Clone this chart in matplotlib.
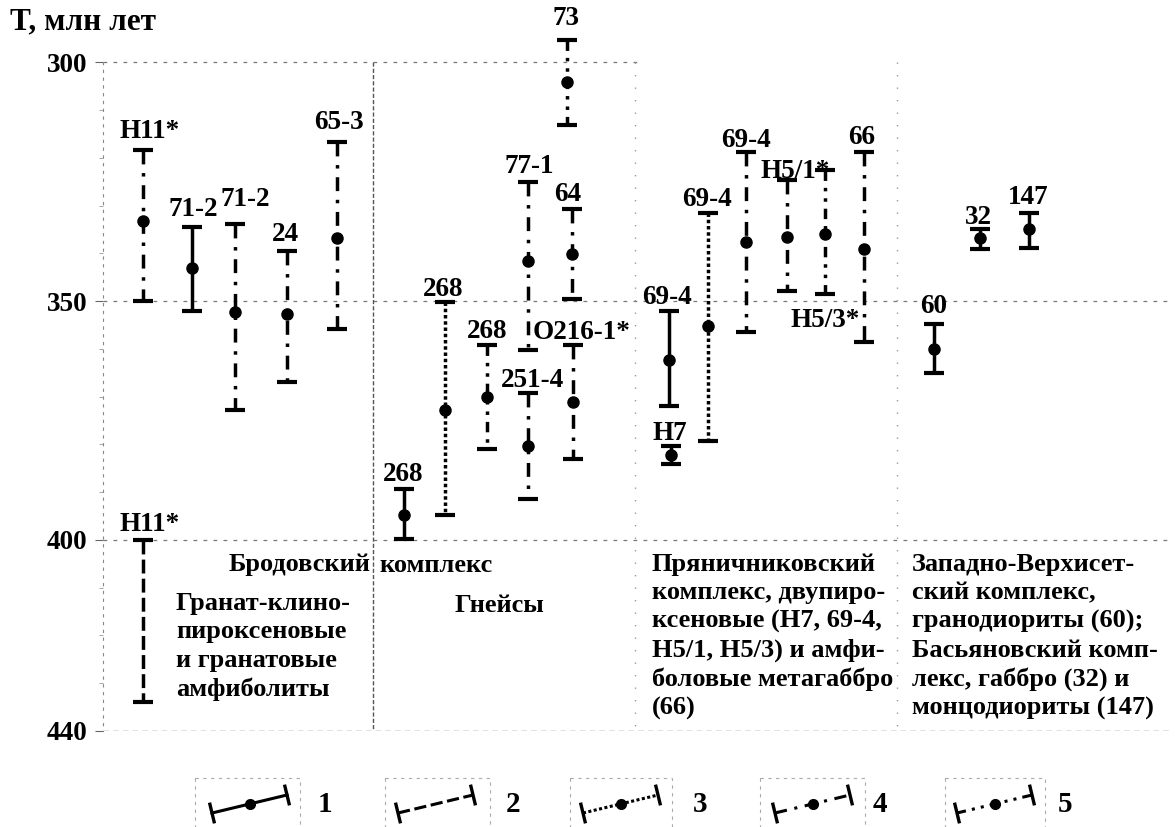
import numpy as np
import matplotlib.pyplot as plt
from matplotlib.patches import Rectangle

plt.rcParams['font.family'] = ['Liberation Serif', 'DejaVu Serif']
plt.rcParams['font.weight'] = 'bold'

# sample labels, age of the point and the two ends of each interval (Ma)
samples = ['H11*', '71-2', '71-2', '24', '65-3', 'H11*',
           '268', '268', '268', '77-1', '251-4', '73', '64', 'O216-1*',
           '69-4', 'H7', '69-4', '69-4', 'H5/1*', 'H5/3*', '66',
           '60', '32', '147']
age = [333.3, 343.1, 352.3, 352.8, 336.7, np.nan,
       394.7, 372.7, 370.1, 341.7, 380.3, 304.2, 340.2, 371.2,
       362.3, 382.2, 355.3, 337.7, 336.5, 336.0, 339.2,
       360.0, 336.9, 335.0]
age_young = [318.3, 334.4, 333.8, 339.6, 316.7, 400.0,
             389.4, 350.2, 359.1, 325.0, 369.3, 295.4, 330.8, 359.1,
             352.1, 380.3, 331.5, 318.8, 324.6, 322.5, 318.8,
             354.9, 335.0, 331.5]
age_old = [350.0, 352.1, 372.9, 366.9, 355.9, 434.0,
           399.8, 394.7, 380.9, 360.2, 391.5, 313.1, 349.6, 383.1,
           372.0, 384.1, 379.2, 356.4, 347.9, 348.5, 358.5,
           365.0, 339.2, 338.8]
# method number, see legend 1..5
line_type = [4, 1, 4, 4, 4, 2,
             1, 3, 5, 4, 4, 5, 4, 4,
             1, 1, 3, 4, 4, 5, 4,
             1, 1, 1]

y_ticks = [300, 350, 400, 440]

# horizontal placement (pixels) and label offsets
xpos = [143, 192, 235, 287, 337, 143,
        404, 445, 487, 528, 528, 567, 572, 573,
        669, 671, 708, 746, 787, 825, 864,
        934, 980, 1029]
label_dx = [7, 1, 10, -2, 2, 7, -1, -2, 0, 1, 5, -1, -4, 9,
            -2, -1, -1, 0, 8, 0, -2, 0, -2, -1]
label_dy = [18, 17, 24, 17, 19, 15, 15, 13, 13, 15, 13, 22, 15, 12,
            14, 12, 13, 12, 8, -27, 15, 18, 12, 15]

styles = {
    1: '-',
    2: (0, (4, 1.5)),
    3: (0, (1, 0.8)),
    4: (0, (4, 2.5, 1, 2.5)),
    5: (0, (3, 2, 1, 2, 1, 2)),
}

W, H = 1175, 827
fig = plt.figure(figsize=(W / 100, H / 100), dpi=100)
ax = fig.add_axes([103 / W, (H - 731) / H, 1 - 103 / W, (731 - 24) / H])
ax.set_xlim(103, W)
ax.set_ylim(440, 292)

for i, name in enumerate(samples):
    lo, hi, mid = age_young[i], age_old[i], age[i]
    has_dot = not np.isnan(mid)
    yc = mid if has_dot else (lo + hi) / 2
    eb = ax.errorbar(xpos[i], yc, yerr=[[yc - lo], [hi - yc]],
                     fmt='o' if has_dot else 'none', color='black',
                     ms=8, elinewidth=2.5, capsize=7.5, capthick=3,
                     zorder=3)
    eb[2][0].set_linestyle(styles[line_type[i]])
    anchor = hi if name == 'H5/3*' else lo
    ax.annotate(name, (xpos[i], anchor), xytext=(label_dx[i], label_dy[i]),
                textcoords='offset pixels', ha='center', va='center',
                fontsize=19.5, annotation_clip=False)

# dashed frame and dividers
grid_kw = dict(color='#777777', lw=0.9, linestyle=(0, (3, 5)), zorder=1)
ax.hlines(300, 103, 640, **grid_kw)
ax.hlines([350, 400], 103, 1170, **grid_kw)
ax.hlines(440, 103, 1170, color='#666666', lw=1.0,
          linestyle=(0, (4, 3)), zorder=1)
ax.vlines(373, 300, 440, color='#555555', lw=1.0,
          linestyle=(0, (3, 1.5)), zorder=1)
ax.vlines([635, 897], 300, 440, color='#999999', lw=1.0,
          linestyle=(0, (1, 8)), zorder=1)

for side in ['top', 'right', 'bottom']:
    ax.spines[side].set_visible(False)
ax.spines['left'].set_bounds(300, 440)
ax.spines['left'].set_linestyle((0, (2, 5)))
ax.spines['left'].set_color('#888888')
ax.set_xticks([])
ax.set_yticks(y_ticks)
ax.set_yticks(np.arange(310, 440, 10), minor=True)
ax.tick_params(axis='y', which='major', labelsize=19.5, length=6,
               color='#666666', pad=5)
ax.tick_params(axis='y', which='minor', length=3, color='#999999')

# overlay in pixel coordinates for titles, captions and legend
lay = fig.add_axes([0, 0, 1, 1])
lay.set_xlim(0, W)
lay.set_ylim(H, 0)
lay.axis('off')

lay.text(10, 22, 'T, млн лет', fontsize=22.5, ha='left', va='center')

fs = 19
cap_kw = dict(fontsize=fs, va='top', ha='left', linespacing=1.3)
lay.text(370, 565, 'Бродовский', fontsize=fs, ha='right', va='center')
lay.text(379, 565, 'комплекс', fontsize=fs, ha='left', va='center')
lay.text(176, 592, 'Гранат-клино-\nпироксеновые\nи гранатовые\nамфиболиты',
         **cap_kw)
lay.text(455, 605, 'Гнейсы', fontsize=fs, ha='left', va='center')
lay.text(652, 553, 'Пряничниковский\nкомплекс, двупиро-\nксеновые (H7, 69-4,\n'
         'H5/1, H5/3) и амфи-\nболовые метагаббро\n(66)', **cap_kw)
lay.text(912, 553, 'Западно-Верхисет-\nский комплекс,\nгранодиориты (60);\n'
         'Басьяновский комп-\nлекс, габбро (32) и\nмонцодиориты (147)',
         **cap_kw)

# legend: slanted samples of the five line types
leg_left = [212, 398, 583, 775, 957]
leg_num_x = [325, 513, 700, 880, 1065]
leg_box = [(195, 300), (385, 490), (570, 672), (760, 865), (945, 1045)]
dx, dy = 75.0, -18.0
norm = np.hypot(dx, dy)
nx, ny = -dy / norm, dx / norm
for k in range(5):
    x0, y0 = leg_left[k], 813
    x1, y1 = x0 + dx, y0 + dy
    lay.plot([x0, x1], [y0, y1], color='black', lw=2.2,
             linestyle=styles[k + 1])
    for px, py in [(x0, y0), (x1, y1)]:
        lay.plot([px - 9 * nx, px + 9 * nx], [py - 9 * ny, py + 9 * ny],
                 color='black', lw=2.4)
    if k + 1 != 2:
        lay.plot((x0 + x1) / 2, (y0 + y1) / 2, 'o', color='black', ms=7)
    lay.text(leg_num_x[k], 805, str(k + 1), fontsize=21, ha='center',
             va='center')
    bx0, bx1 = leg_box[k]
    lay.add_patch(Rectangle((bx0, 778), bx1 - bx0, 70, fill=False,
                            ec='#aaaaaa', lw=0.8, linestyle=(0, (3, 4))))

fig.savefig('out.png', dpi=100)
